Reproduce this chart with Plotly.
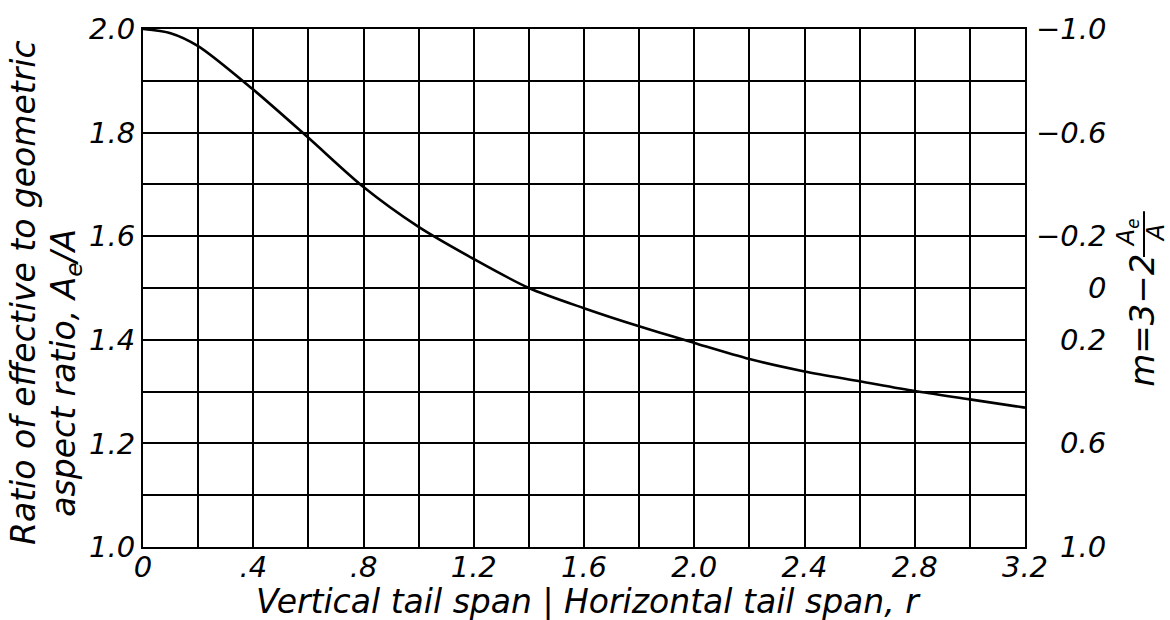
import plotly.graph_objects as go

# Data
r_vals = [0.0, 0.1, 0.2, 0.4, 0.6, 0.8, 1.0, 1.2, 1.4, 1.6, 1.8, 2.0, 2.2, 2.4, 2.6, 2.8, 3.0, 3.2]
ratio_vals = [2.0, 1.992, 1.967, 1.883, 1.79, 1.695, 1.618, 1.556, 1.50, 1.461, 1.426, 1.394,
              1.363, 1.339, 1.320, 1.301, 1.285, 1.269]

x_tickvals = [0, 0.4, 0.8, 1.2, 1.6, 2.0, 2.4, 2.8, 3.2]
x_ticktext = ["0", ".4", ".8", "1.2", "1.6", "2.0", "2.4", "2.8", "3.2"]
y_tickvals = [1.0, 1.2, 1.4, 1.6, 1.8, 2.0]
y_ticktext = ["1.0", "1.2", "1.4", "1.6", "1.8", "2.0"]
m_vals = [-1.0, -0.6, -0.2, 0.0, 0.2, 0.6, 1.0]
m_text = ["\u22121.0", "\u22120.6", "\u22120.2", "0", "0.2", "0.6", "1.0"]

W, H = 1170, 620
L, R, T, B = 143, 145, 27, 73
PW, PH = W - L - R, H - T - B


def px(x):
    return (x - L) / PW


def py(y):
    return 1 - (y - T) / PH


FONT = "DejaVu Sans"
fnt = dict(family=FONT, size=29, color="black", style="italic")
tfnt = dict(family=FONT, size=33, color="black", style="italic")

fig = go.Figure()
fig.add_trace(go.Scatter(x=r_vals, y=ratio_vals, mode="lines",
                         line=dict(color="black", width=2.6, shape="spline", smoothing=0.8),
                         hoverinfo="skip", showlegend=False))

fig.update_layout(
    width=W, height=H,
    margin=dict(l=L, r=R, t=T, b=B, pad=0),
    paper_bgcolor="white", plot_bgcolor="white",
    font=fnt,
    showlegend=False,
    xaxis=dict(range=[0, 3.2], tickvals=x_tickvals, ticktext=x_ticktext,
               showgrid=True, gridcolor="black", gridwidth=2,
               minor=dict(dtick=0.2, tick0=0, showgrid=True, gridcolor="black", gridwidth=2),
               showline=True, linecolor="black", linewidth=2, mirror=True,
               ticks="", tickfont=fnt, zeroline=False, fixedrange=True,
               ticklabelstandoff=-7),
    yaxis=dict(range=[1.0, 2.0], tickvals=y_tickvals, ticktext=y_ticktext,
               showgrid=True, gridcolor="black", gridwidth=2,
               minor=dict(dtick=0.1, tick0=1.0, showgrid=True, gridcolor="black", gridwidth=2),
               showline=True, linecolor="black", linewidth=2, mirror=True,
               ticks="", tickfont=fnt, zeroline=False, fixedrange=True),
)

annotations = []
# right-hand m scale labels, right aligned
for m, t in zip(m_vals, m_text):
    annotations.append(dict(x=px(1108), xref="paper", y=(3 - m) / 2, yref="y",
                            text=t, showarrow=False, xanchor="right", yanchor="middle",
                            font=fnt))
# left axis title (two lines)
annotations.append(dict(x=px(24), xref="paper", y=py(292), yref="paper",
                        text="Ratio of effective to geometric", textangle=-90,
                        showarrow=False, xanchor="center", yanchor="middle", font=tfnt))
annotations.append(dict(x=px(66), xref="paper", y=py(372), yref="paper",
                        text="aspect ratio, A<sub>e</sub>/A", textangle=-90,
                        showarrow=False, xanchor="center", yanchor="middle", font=tfnt))
# x axis title
annotations.append(dict(x=px(588), xref="paper", y=py(602), yref="paper",
                        text="Vertical tail span | Horizontal tail span, r",
                        showarrow=False, xanchor="center", yanchor="middle", font=tfnt))
# right axis title m = 3 - 2 Ae/A
annotations.append(dict(x=px(1142), xref="paper", y=py(320), yref="paper",
                        text="m=3\u22122", textangle=-90,
                        showarrow=False, xanchor="center", yanchor="middle",
                        font=dict(family=FONT, size=34, color="black", style="italic")))
annotations.append(dict(x=px(1127), xref="paper", y=py(232), yref="paper",
                        text="A<sub>e</sub>", textangle=-90,
                        showarrow=False, xanchor="center", yanchor="middle",
                        font=dict(family=FONT, size=24, color="black")))
annotations.append(dict(x=px(1156), xref="paper", y=py(232), yref="paper",
                        text="A", textangle=-90,
                        showarrow=False, xanchor="center", yanchor="middle",
                        font=dict(family=FONT, size=24, color="black")))
fig.update_layout(annotations=annotations)
fig.add_shape(type="line", xref="paper", yref="paper",
              x0=px(1144), x1=px(1144), y0=py(210), y1=py(256),
              line=dict(color="black", width=2))

fig.write_html("out.html", config={"displayModeBar": False},
               post_script="document.body.style.margin='0';")
